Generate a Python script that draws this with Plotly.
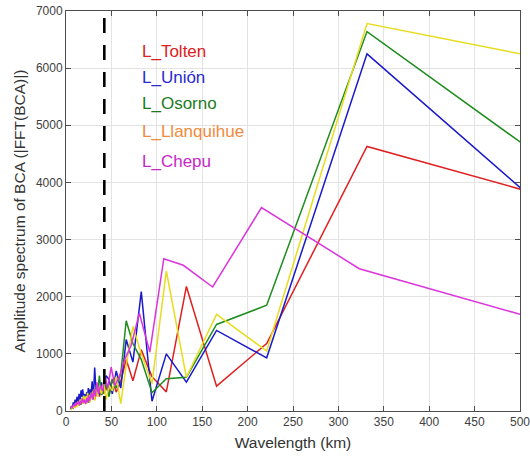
import plotly.graph_objects as go

# Wavelengths (km) for series sampled on a ~663 km profile
wl_a = [663, 331.5, 221, 165.8, 132.6, 110.5, 94.7, 82.9, 73.7, 66.3, 60.3, 55.3, 51.0, 47.4, 44.2,
        41.4, 39.0, 36.8, 34.9, 33.2, 31.6, 30.1, 28.8, 27.6, 26.5, 25.5, 24.6, 23.7, 22.9, 22.1,
        20.7, 19.5, 18.4, 17.4, 16.6, 15.4, 14.4, 13.3, 12.1, 11.1, 10.0, 9.0, 8.0, 7.0, 6.0, 5.1]
# Wavelengths (km) for the Chepu profile (~646 km)
wl_b = [646, 323, 215.3, 161.5, 129.2, 107.7, 92.3, 80.8, 71.8, 64.6, 58.7, 53.8, 49.7, 46.1, 43.1,
        40.4, 38.0, 35.9, 34.0, 32.3, 30.8, 29.4, 28.1, 26.9, 25.8, 24.8, 23.9, 23.1, 22.3, 21.5,
        20.2, 19.0, 17.9, 17.0, 16.2, 15.0, 14.0, 12.9, 11.7, 10.8, 9.8, 8.7, 7.8, 6.8, 5.9, 5.0]

tolten = [3160, 4630, 1180, 435, 2180, 335, 600, 1070, 530, 900, 520, 330, 560, 280, 430,
          300, 480, 250, 400, 290, 200, 360, 240, 320, 170, 290, 210, 260, 140, 230,
          180, 240, 130, 200, 120, 170, 100, 150, 90, 120, 80, 100, 60, 70, 40, 30]
union = [1650, 6250, 930, 1410, 505, 1000, 170, 2090, 855, 1250, 400, 700, 300, 550, 620,
         350, 500, 280, 420, 300, 760, 200, 520, 300, 380, 150, 400, 250, 330, 180,
         300, 200, 380, 250, 360, 150, 300, 120, 250, 100, 200, 90, 150, 60, 90, 30]
osorno = [2840, 6640, 1850, 1515, 590, 565, 320, 900, 1180, 1580, 650, 400, 550, 250, 470,
          330, 280, 620, 350, 450, 220, 380, 260, 330, 180, 300, 150, 270, 200, 240,
          150, 250, 130, 220, 110, 180, 90, 160, 80, 120, 70, 100, 50, 60, 40, 30]
llanquihue = [5740, 6780, 1050, 1690, 590, 2450, 480, 1000, 1480, 800, 130, 600, 350, 450, 200,
              500, 300, 420, 250, 380, 180, 350, 260, 300, 150, 280, 200, 320, 130, 260,
              180, 270, 120, 230, 140, 200, 90, 170, 70, 140, 60, 110, 50, 80, 30, 20]
chepu = [1035, 2490, 3560, 2170, 2550, 2665, 1030, 1710, 1150, 900, 600, 450, 770, 400, 600,
         350, 450, 300, 500, 250, 380, 200, 320, 250, 180, 280, 150, 230, 190, 120,
         200, 150, 220, 130, 180, 100, 170, 120, 150, 90, 130, 80, 100, 60, 70, 40]

names = ["L_Tolten", "L_Unión", "L_Osorno", "L_Llanquihue", "L_Chepu"]
line_colors = ["#e02020", "#1a1acc", "#1e8c1e", "#e8dc1e", "#dc34dc"]
text_colors = ["#e02020", "#2a2ad0", "#1e7a1e", "#f08a3c", "#c828c8"]
cutoff_km = 42.2

series = [(wl_a, tolten), (wl_a, union), (wl_a, osorno), (wl_a, llanquihue), (wl_b, chepu)]

fig = go.Figure()
for (x, y), name, c in zip(series, names, line_colors):
    fig.add_trace(go.Scatter(x=x, y=y, mode="lines", name=name,
                             line=dict(color=c, width=1.5), showlegend=False))

fig.add_trace(go.Scatter(x=[cutoff_km, cutoff_km], y=[0, 7000], mode="lines",
                         line=dict(color="black", width=2.6, dash="15px,12px"),
                         showlegend=False))

# legend-like labels (paper coordinates of the plot area)
ys = [0.899, 0.834, 0.769, 0.700, 0.625]
for name, c, yp in zip(names, text_colors, ys):
    fig.add_annotation(x=0.163, y=yp, xref="paper", yref="paper",
                       text=name, showarrow=False, xanchor="left", yanchor="middle",
                       font=dict(size=17, color=c, family="Liberation Sans, Arial"))

axis_common = dict(showline=True, linecolor="#4d4d4d", linewidth=1, mirror="ticks",
                   ticks="inside", ticklen=5, tickcolor="#4d4d4d", automargin=False,
                   ticklabeloverflow="allow",
                   showgrid=True, gridcolor="#e3e3e3", gridwidth=1, zeroline=False,
                   tickfont=dict(size=12, color="#404040", family="Liberation Sans, Arial"))

fig.update_layout(
    width=530, height=463,
    margin=dict(l=66, r=10, t=11, b=52),
    paper_bgcolor="white", plot_bgcolor="white",
    xaxis=dict(range=[0, 500], tickvals=[0, 50, 100, 150, 200, 250, 300, 350, 400, 450, 500],
               title=dict(text="Wavelength (km)", standoff=8,
                          font=dict(size=15.5, color="#333333", family="Liberation Sans, Arial")),
               **axis_common),
    yaxis=dict(range=[0, 7000], tickvals=[0, 1000, 2000, 3000, 4000, 5000, 6000, 7000],
               title=dict(text="Amplitude spectrum of BCA (|FFT(BCA)|)", standoff=6,
                          font=dict(size=15.5, color="#333333", family="Liberation Sans, Arial")),
               **axis_common),
)

fig.write_html("out.html")
